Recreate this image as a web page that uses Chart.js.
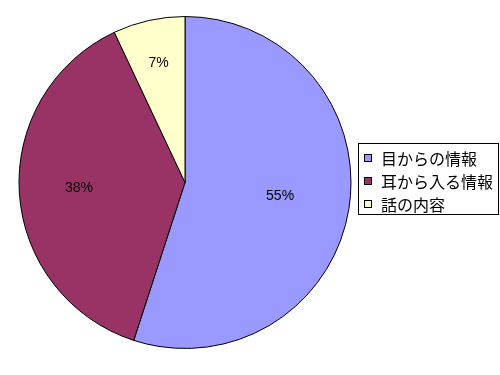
<!DOCTYPE html>
<html>
<head>
<meta charset="utf-8">
<title>情報の割合</title>
<script src="https://cdn.jsdelivr.net/npm/chart.js"></script>
<style>
    body { margin: 0; background: #ffffff; }
    canvas { display: block; }
</style>
</head>
<body>
<canvas id="pieChart" width="500" height="375"></canvas>
<script>
// chart values
const categories = ['目からの情報', '耳から入る情報', '話の内容'];
const shares = [55, 38, 7];
const sliceColors = ['#9999FF', '#993366', '#FFFFCC'];

// how far out (fraction of radius) each percentage label sits
const labelDepth = [0.58, 0.64, 0.73];

// percentage labels inside the slices
const sliceLabels = {
    id: 'sliceLabels',
    afterDatasetsDraw(chart) {
        const ctx = chart.ctx;
        const meta = chart.getDatasetMeta(0);
        ctx.save();
        ctx.font = '14px "Liberation Sans", Arial, sans-serif';
        ctx.fillStyle = '#000000';
        ctx.textAlign = 'center';
        ctx.textBaseline = 'middle';
        meta.data.forEach((arc, i) => {
            const mid = (arc.startAngle + arc.endAngle) / 2;
            const r = arc.outerRadius * labelDepth[i];
            const x = arc.x + Math.cos(mid) * r;
            const y = arc.y + Math.sin(mid) * r;
            ctx.fillText(shares[i] + '%', x, y - 1);
        });
        ctx.restore();
    }
};

// Excel-style boxed legend on the right
const boxLegend = {
    id: 'boxLegend',
    afterDraw(chart) {
        const ctx = chart.ctx;
        ctx.save();
        ctx.strokeStyle = '#000000';
        ctx.lineWidth = 1;
        ctx.strokeRect(358.5, 143.5, 140, 71);
        ctx.font = '16px "Noto Sans CJK JP", sans-serif';
        ctx.textBaseline = 'middle';
        categories.forEach((name, i) => {
            const y = 158 + i * 23;
            ctx.fillStyle = sliceColors[i];
            ctx.fillRect(364.5, y - 3.5, 7, 7);
            ctx.strokeRect(364.5, y - 3.5, 7, 7);
            ctx.fillStyle = '#000000';
            ctx.fillText(name, 381, y + 1);
        });
        ctx.restore();
    }
};

new Chart(document.getElementById('pieChart'), {
    type: 'pie',
    data: {
        labels: categories,
        datasets: [{
            data: shares,
            backgroundColor: sliceColors,
            borderColor: '#000000',
            borderWidth: 1
        }]
    },
    options: {
        responsive: false,
        animation: false,
        layout: { padding: { left: 18, right: 148, top: 16, bottom: 26 } },
        plugins: {
            legend: { display: false },
            tooltip: { enabled: false }
        }
    },
    plugins: [sliceLabels, boxLegend]
});
</script>
</body>
</html>
